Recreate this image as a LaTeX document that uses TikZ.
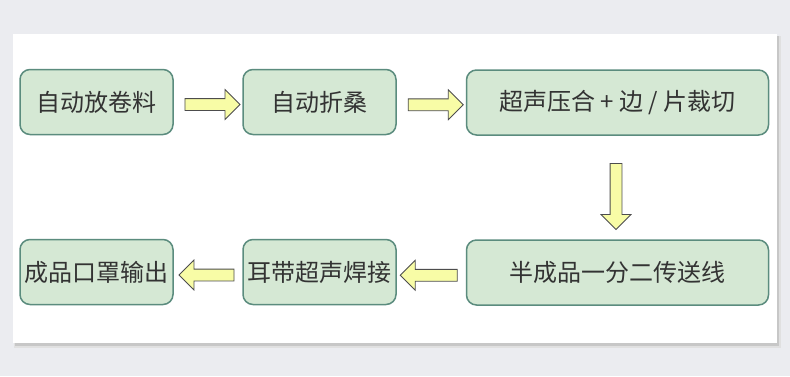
\documentclass[tikz,border=0pt]{standalone}
\usepackage{fontspec}
\setmainfont{Noto Sans CJK SC}
\usepackage{tikz}
\usetikzlibrary{calc}
\usetikzlibrary{shapes.arrows}
\definecolor{boxfill}{HTML}{D5E8D4}
\definecolor{boxline}{HTML}{5B8C7E}
\definecolor{arrowfill}{HTML}{F8FCA6}
\definecolor{arrowline}{HTML}{4D4D4D}
\definecolor{pagebg}{HTML}{EBECF0}
\definecolor{textgray}{HTML}{333333}
\tikzstyle{stage}=[rectangle, rounded corners=10pt, draw=boxline, fill=boxfill, line width=1.5pt, minimum height=65pt, inner sep=0pt, text=textgray, font=\fontsize{24}{24}\selectfont]
\tikzstyle{flow}=[single arrow, draw=arrowline, fill=arrowfill, line width=0.8pt, inner sep=5.5pt, single arrow head extend=9pt, minimum height=55pt]

\begin{document}
\begin{tikzpicture}
        [x=1pt,y=-1pt]
            \fill [pagebg] (0,0) rectangle (790,376);
            \useasboundingbox (0,0) rectangle (790,376);
            \fill [black!12] (14,36) rectangle (781,348);
            \fill [black!22] (15,36) rectangle (779,346);
            \fill [white] (13,34) rectangle (777,343);
            % top row
            \node [stage, minimum width=153pt] (roll) at (96.5,102) {自动放卷料};
            \node [stage, minimum width=153pt] (fold) at (319.5,102) {自动折桑};
            \node [stage, minimum width=302pt] (weld) at (617.5,102.5) {超声压合 + 边 / 片裁切};
            % bottom row
            \node [stage, minimum width=302pt] (line) at (617.5,272.5) {半成品一分二传送线};
            \node [stage, minimum width=153pt] (ear) at (319.5,272) {耳带超声焊接};
            \node [stage, minimum width=153pt] (out) at (96.5,272) {成品口罩输出};
            % arrows
            \node [flow] (rf) at ($(roll.east)!.5!(fold.west)+(1.5,2.5)$) {};
            \node [flow] (fw) at ($(fold.east)!.5!(weld.west)+(1.5,2.5)$) {};
            \node [flow, shape border rotate=270, minimum height=66pt] (wl) at ($(weld.south)!.5!(line.north)+(-1.5,6)$) {};
            \node [flow, shape border rotate=180, minimum height=57pt] (le) at ($(line.west)!.5!(ear.east)+(0.5,3)$) {};
            \node [flow, shape border rotate=180] (eo) at ($(ear.west)!.5!(out.east)+(1.5,3)$) {};
        \end{tikzpicture}
\end{document}
